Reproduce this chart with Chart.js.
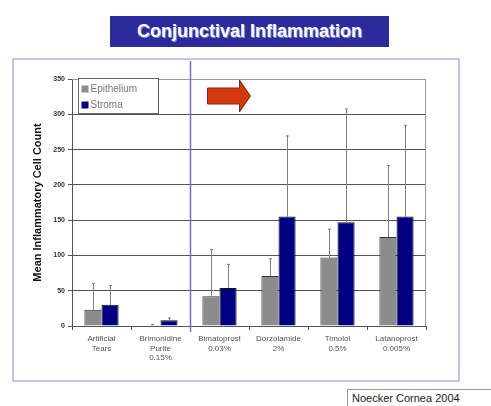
<!DOCTYPE html>
<html>
<head>
<meta charset="utf-8">
<script src="https://cdn.jsdelivr.net/npm/chart.js@4/dist/chart.umd.min.js"></script>
<style>
  body { margin: 0; background: #fff; width: 491px; height: 406px; position: relative; overflow: hidden; font-family: "Liberation Sans", Arial, sans-serif; }
  #title { position: absolute; left: 110px; top: 16px; width: 279px; height: 31px; background: #2b2b9c; color: #fff; font-weight: bold; font-size: 18px; line-height: 31px; text-align: center; text-shadow: 1px 1px 0 #8a8ad0; }
  #rule { position: absolute; left: 12px; top: 58px; width: 448px; height: 1px; background: #c8c8e8; }
  #frame { position: absolute; left: 12px; top: 59px; width: 444px; height: 320px; border: 2px solid #c4c4e6; border-top-width: 1px; }
  #chartbox { position: absolute; left: 12px; top: 60px; width: 446px; height: 322px; }
  #credit { position: absolute; left: 347px; top: 389px; width: 144px; height: 17px; border-left: 1px solid #999; border-top: 1px solid #999; font-size: 11px; line-height: 17px; padding-left: 4px; color: #222; box-sizing: border-box; }
</style>
</head>
<body>
<div id="title">Conjunctival Inflammation</div>
<div id="rule"></div>
<div id="frame"></div>
<div id="chartbox"><canvas id="cic"></canvas></div>
<div id="credit">Noecker Cornea 2004</div>
<script>
// values
var drugs = [["Artificial", "Tears"], ["Brimonidine", "Purite", "0.15%"], ["Bimatoprost", "0.03%"], ["Dorzolamide", "2%"], ["Timolol", "0.5%"], ["Latanoprost", "0.005%"]];
var epithelium = [23, 1, 42, 71, 97, 126];
var epitheliumTop = [61, 3, 109, 96, 138, 228];
var stroma = [30, 8, 54, 155, 147, 155];
var stromaTop = [58, 12, 88, 270, 308, 285];
var yTicks = [0, 50, 100, 150, 200, 250, 300, 350];

var errTops = [epitheliumTop, stromaTop];

var slideBits = {
  id: 'slideBits',
  afterDatasetsDraw: function(chart) {
    var c = chart.ctx, y = chart.scales.y, x = chart.scales.x, area = chart.chartArea;
    c.save();
    // error bars (upper only)
    c.strokeStyle = '#808080';
    c.lineWidth = 1;
    chart.data.datasets.forEach(function(ds, di) {
      var meta = chart.getDatasetMeta(di);
      meta.data.forEach(function(bar, i) {
        var top = y.getPixelForValue(errTops[di][i]);
        var bx = Math.round(bar.x) + 0.5;
        c.beginPath();
        c.moveTo(bx, bar.y);
        c.lineTo(bx, top);
        c.moveTo(bx - 1.5, top + 0.5);
        c.lineTo(bx + 1.5, top + 0.5);
        c.stroke();
      });
    });
    // divider between brimonidine and bimatoprost
    var dx = Math.round((x.getPixelForValue(1) + x.getPixelForValue(2)) / 2) + 0.5;
    c.strokeStyle = '#7070c0';
    c.lineWidth = 1.5;
    c.beginPath();
    c.moveTo(dx, 1);
    c.lineTo(dx, area.bottom + 6);
    c.stroke();
    // red arrow
    var ax = dx + 17, ay = area.top + 17;
    c.fillStyle = '#d4380c';
    c.strokeStyle = '#7a2a10';
    c.lineWidth = 1;
    c.beginPath();
    c.moveTo(ax, ay - 8);
    c.lineTo(ax + 32, ay - 8);
    c.lineTo(ax + 32, ay - 16);
    c.lineTo(ax + 43, ay);
    c.lineTo(ax + 32, ay + 16);
    c.lineTo(ax + 32, ay + 8);
    c.lineTo(ax, ay + 8);
    c.closePath();
    c.fill();
    c.stroke();
    // legend
    var lx = area.left + 6.5, ly = area.top - 0.5;
    c.fillStyle = '#fff';
    c.fillRect(lx, ly, 80, 35);
    c.strokeStyle = '#666';
    c.strokeRect(lx, ly, 80, 35);
    c.font = '10px "Liberation Sans", Arial';
    c.textBaseline = 'middle';
    chart.data.datasets.forEach(function(ds, di) {
      var ry = ly + 10 + di * 16;
      c.fillStyle = ds.backgroundColor;
      c.fillRect(lx + 3, ry - 3, 7, 7);
      c.fillStyle = '#777';
      c.fillText(ds.label, lx + 12, ry + 1);
    });
    c.restore();
  }
};

var ctx = document.getElementById('cic').getContext('2d');
var cicChart = new Chart(ctx, {
  type: 'bar',
  data: {
    labels: drugs,
    datasets: [
      {
        label: 'Epithelium',
        data: epithelium,
        backgroundColor: '#8c8c8c',
        borderColor: '#333',
        borderWidth: 1,
        borderSkipped: 'bottom'
      },
      {
        label: 'Stroma',
        data: stroma,
        backgroundColor: '#000080',
        borderColor: '#111',
        borderWidth: 1,
        borderSkipped: 'bottom'
      }
    ]
  },
  options: {
    responsive: true,
    maintainAspectRatio: false,
    animation: false,
    categoryPercentage: 0.58,
    barPercentage: 1.0,
    layout: { padding: { top: 19, right: 32, left: 17, bottom: 0 } },
    plugins: {
      legend: { display: false },
      tooltip: { enabled: false }
    },
    scales: {
      x: {
        grid: { drawOnChartArea: false, drawTicks: true, tickLength: 4, color: '#555', offset: true },
        border: { color: '#555' },
        ticks: { color: '#555', font: { size: 8, family: '"Liberation Sans", Arial' }, maxRotation: 0, autoSkip: false, padding: 4 },
        afterFit: function(s) { s.height = 56; }
      },
      y: {
        min: 0,
        max: 350,
        afterBuildTicks: function(s) { s.ticks = yTicks.map(function(v) { return { value: v }; }); },
        grid: { color: '#555', lineWidth: 1, tickLength: 4 },
        border: { color: '#555' },
        ticks: { color: '#333', font: { size: 7, weight: 'bold', family: '"Liberation Sans", Arial' }, padding: 3 },
        title: { display: true, text: 'Mean Inflammatory Cell Count', color: '#111', font: { size: 11, weight: 'bold', family: '"Liberation Sans", Arial' }, padding: 2 },
        afterFit: function(s) { s.width = 43; }
      }
    }
  },
  plugins: [slideBits, {
    id: 'plotEdge',
    beforeDatasetsDraw: function(chart) {
      var c = chart.ctx, a = chart.chartArea;
      c.save();
      c.strokeStyle = '#999';
      c.lineWidth = 1;
      c.beginPath();
      c.moveTo(a.left, a.top + 0.5);
      c.lineTo(a.right - 0.5, a.top + 0.5);
      c.lineTo(a.right - 0.5, a.bottom);
      c.stroke();
      c.restore();
    }
  }]
});
</script>
</body>
</html>
